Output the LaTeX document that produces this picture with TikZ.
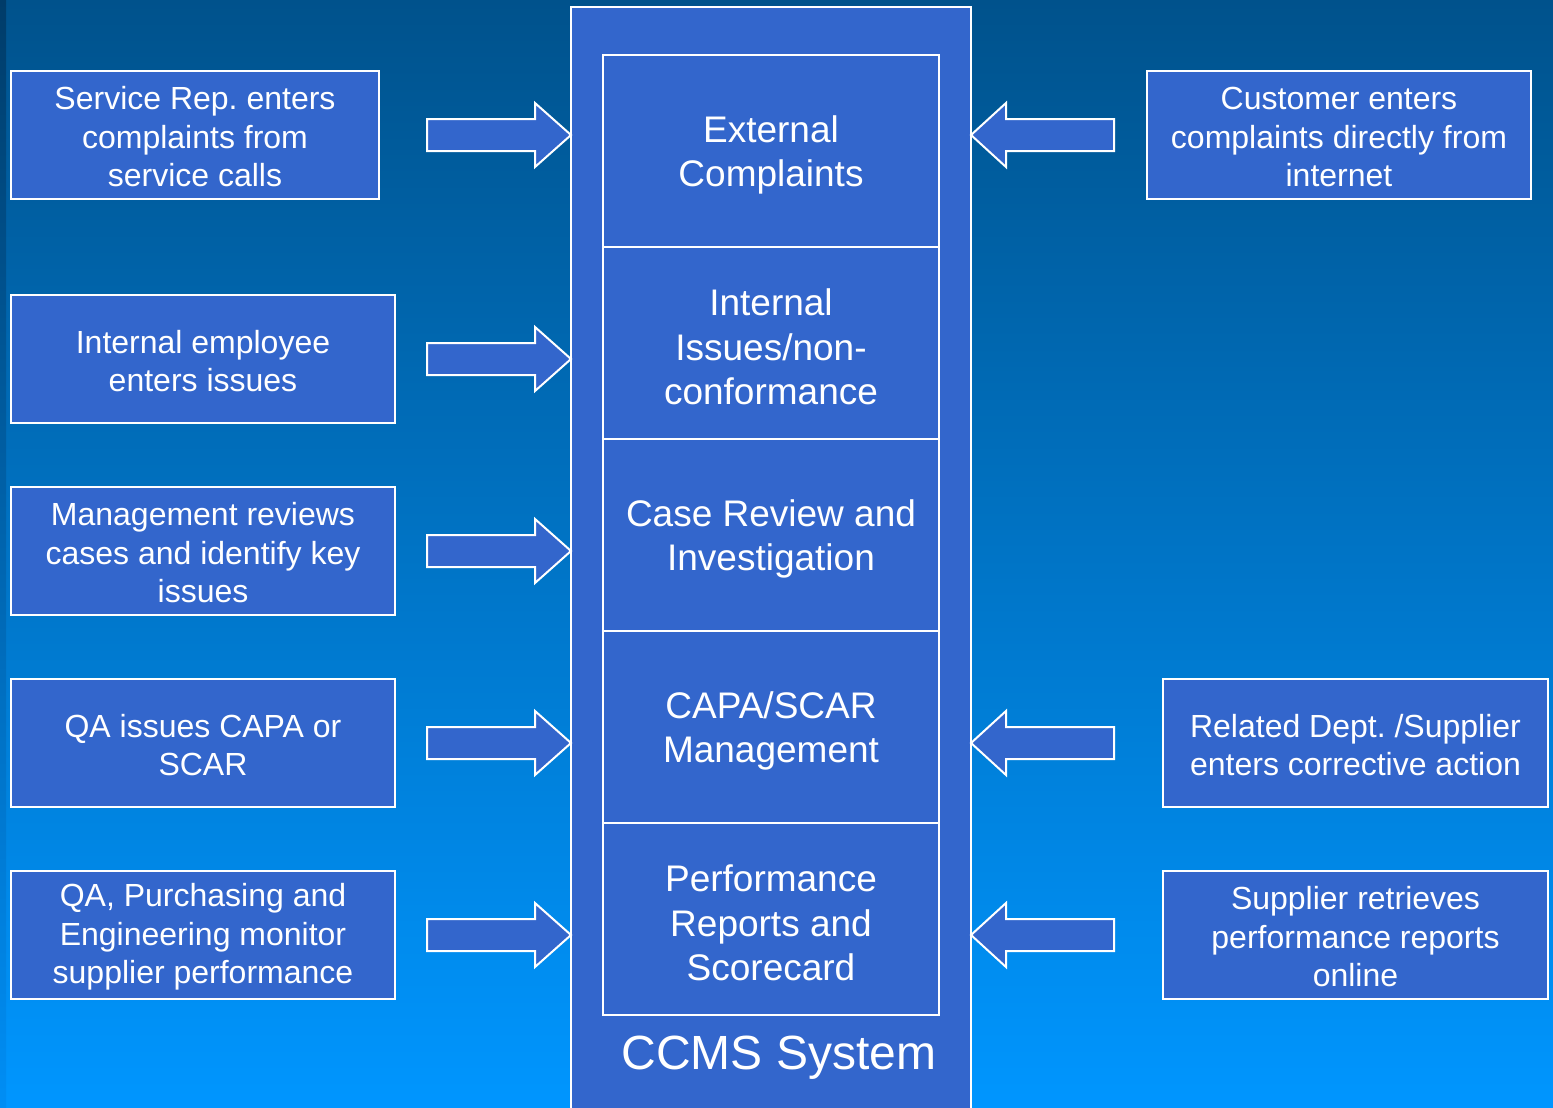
\documentclass[tikz,border=0pt]{standalone}
\usepackage{fontspec}
\setmainfont{Liberation Sans}
\usetikzlibrary{calc}
\frenchspacing
\definecolor{bgtop}{RGB}{0,82,140}
\definecolor{bgbot}{RGB}{0,150,255}
\definecolor{striptop}{RGB}{0,60,105}
\definecolor{stripbot}{RGB}{0,142,245}
\definecolor{boxblue}{RGB}{51,102,204}
\begin{document}
\begin{tikzpicture}[x=1pt,y=-1pt,
  boxsty/.style={draw=white, line width=2pt, fill=boxblue, rectangle, inner sep=0pt, outer sep=0pt},
  sidetext/.style={text=white, align=center, inner sep=0pt, yshift=-2pt, font=\fontsize{32}{38.5}\selectfont\frenchspacing},
  innertext/.style={text=white, align=center, inner sep=0pt, yshift=-4pt, font=\fontsize{37}{44.5}\selectfont},
  sidebox/.style={boxsty, minimum height=128pt},
  innerbox/.style={boxsty, minimum width=336pt, minimum height=192pt},
  blockarrow/.style={draw=white, line width=2pt, fill=boxblue, line join=miter}]
\useasboundingbox (0,0) rectangle (1553,1108);
\shade[top color=bgtop, bottom color=bgbot] (0,0) rectangle (1553,1108);
\shade[top color=striptop, bottom color=stripbot] (0,0) rectangle (6,1108);
% central system box
\node[boxsty, minimum width=400pt, minimum height=1120pt] (ccms) at (771,567) {};
\node[innerbox, label={[innertext]center:External\\Complaints}] (ext) at (771,151) {};
\node[innerbox, label={[innertext]center:Internal\\Issues/non-\\conformance}] (int) at (771,343) {};
\node[innerbox, label={[innertext]center:Case Review and\\Investigation}] (case) at (771,535) {};
\node[innerbox, label={[innertext]center:CAPA/SCAR\\Management}] (capa) at (771,727) {};
\node[innerbox, label={[innertext]center:Performance\\Reports and\\Scorecard}] (perf) at (771,919) {};
\node[text=white, font=\fontsize{48}{57}\selectfont, inner sep=0pt] (sys) at (779,1058) {CCMS System};
% left boxes
\node[sidebox, minimum width=368pt, label={[sidetext]center:Service Rep. enters\\complaints from\\service calls}] (l1) at (195,135) {};
\node[sidebox, minimum width=384pt, label={[sidetext]center:Internal employee\\enters issues}] (l2) at (203,359) {};
\node[sidebox, minimum width=384pt, label={[sidetext]center:Management reviews\\cases and identify key\\issues}] (l3) at (203,551) {};
\node[sidebox, minimum width=384pt, label={[sidetext]center:QA issues CAPA or\\SCAR}] (l4) at (203,743) {};
\node[sidebox, minimum width=384pt, label={[sidetext]center:QA, Purchasing and\\Engineering monitor\\supplier performance}] (l5) at (203,935) {};
% right boxes
\node[sidebox, minimum width=384pt, label={[sidetext]center:Customer enters\\complaints directly from\\internet}] (r1) at (1339,135) {};
\node[sidebox, minimum width=385pt, label={[sidetext]center:Related Dept. /Supplier\\enters corrective action}] (r2) at (1355.5,743) {};
\node[sidebox, minimum width=385pt, label={[sidetext]center:Supplier retrieves\\performance reports\\online}] (r3) at (1355.5,935) {};
% right-pointing block arrows
\foreach \n in {l1,l2,l3,l4,l5}{
  \draw[blockarrow] (ccms.west |- \n) -- ++(-36,-32) -- ++(0,16) -- ++(-108,0) -- ++(0,32) -- ++(108,0) -- ++(0,16) -- cycle;
}
% left-pointing block arrows
\foreach \n in {r1,r2,r3}{
  \draw[blockarrow] (ccms.east |- \n) -- ++(35,-32) -- ++(0,16) -- ++(108,0) -- ++(0,32) -- ++(-108,0) -- ++(0,16) -- cycle;
}
\end{tikzpicture}
\end{document}
